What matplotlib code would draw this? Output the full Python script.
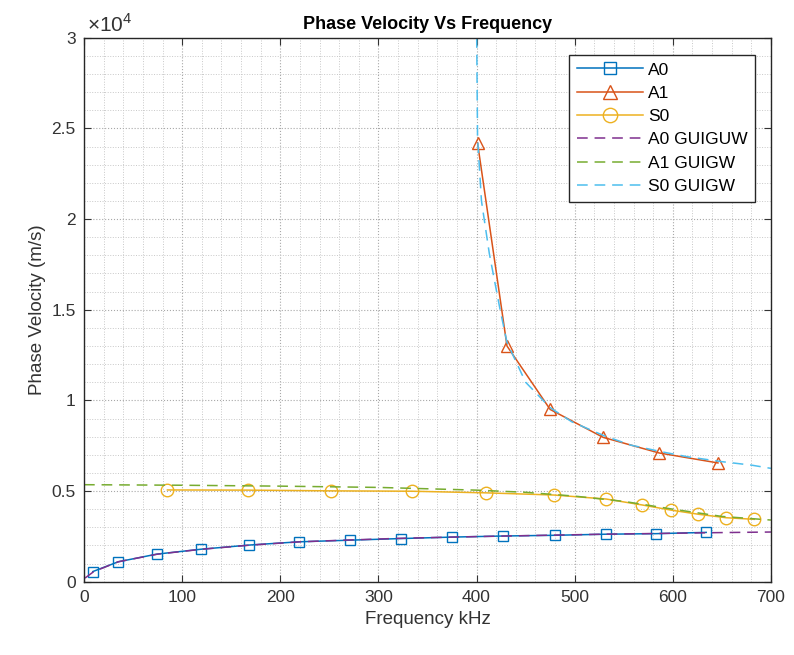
import numpy as np
import matplotlib.pyplot as plt
from matplotlib.ticker import MultipleLocator, FuncFormatter

plt.rcParams['font.family'] = ['Liberation Sans', 'DejaVu Sans']
plt.rcParams['mathtext.fontset'] = 'custom'
plt.rcParams['mathtext.rm'] = 'Liberation Sans'

# measured modes (kHz, m/s)
a0_f = [9, 35, 74, 119, 168, 219, 271, 323, 375, 427, 480, 532, 583, 634]
a0_v = [560, 1100, 1520, 1790, 2020, 2200, 2290, 2380, 2460, 2520, 2560, 2620, 2650, 2720]

a1_f = [401, 431, 475, 529, 586, 646]
a1_v = [24200, 13000, 9500, 7960, 7100, 6550]

s0_f = [85, 167, 252, 334, 410, 479, 532, 569, 598, 626, 654, 683]
s0_v = [5060, 5050, 5010, 4990, 4900, 4780, 4560, 4230, 3950, 3720, 3530, 3440]

# GUIGUW reference curves
g_a0_f = [1, 10, 35, 75, 120, 170, 220, 270, 320, 375, 430, 480, 530, 585, 635, 700]
g_a0_v = [200, 560, 1100, 1520, 1790, 2020, 2200, 2300, 2390, 2460, 2520, 2570, 2620, 2660, 2700, 2740]

g_a1_f = [0, 100, 200, 300, 400, 450, 500, 550, 600, 650, 700]
g_a1_v = [5350, 5320, 5270, 5200, 5050, 4930, 4720, 4430, 4000, 3600, 3400]

g_s0_f = [400, 401, 405, 413, 424, 431, 450, 475, 497, 530, 557, 590, 615, 650, 680, 700]
g_s0_v = [31000, 24500, 21000, 18100, 15000, 13200, 11000, 9600, 8820, 8050, 7535, 7150, 6890, 6620, 6430, 6250]

labels = ['A0', 'A1', 'S0', 'A0 GUIGUW', 'A1 GUIGW', 'S0 GUIGW']
colors = ['#0072BD', '#D95319', '#EDB120', '#7E2F8E', '#77AC30', '#4DBEEE']

fig = plt.figure(figsize=(7.94, 6.55), dpi=100)
ax = fig.add_axes([0.1058, 0.1119, 0.8652, 0.8305])

ax.plot(a0_f, a0_v, '-s', color=colors[0], mfc='none', ms=7, lw=1.1, label=labels[0])
ax.plot(a1_f, a1_v, '-^', color=colors[1], mfc='none', ms=9, lw=1.1, label=labels[1])
ax.plot(s0_f, s0_v, '-o', color=colors[2], mfc='none', ms=9, lw=1.1, label=labels[2])
ax.plot(g_a0_f, g_a0_v, '--', color=colors[3], lw=1.1, dashes=(7, 4.5), label=labels[3])
ax.plot(g_a1_f, g_a1_v, '--', color=colors[4], lw=1.1, dashes=(7, 4.5), label=labels[4])
ax.plot(g_s0_f, g_s0_v, '--', color=colors[5], lw=1.1, dashes=(7, 4.5), label=labels[5])

ax.set_xlim(0, 700)
ax.set_ylim(0, 30000)
ax.xaxis.set_major_locator(MultipleLocator(100))
ax.xaxis.set_minor_locator(MultipleLocator(20))
ax.yaxis.set_major_locator(MultipleLocator(5000))
ax.yaxis.set_minor_locator(MultipleLocator(1000))
ax.yaxis.set_major_formatter(FuncFormatter(lambda v, p: f"{v/1e4:g}"))

ax.grid(True, which='major', ls=':', color='#a8a8a8', lw=0.8)
ax.grid(True, which='minor', ls=':', color='#c8c8c8', lw=0.7)
ax.set_axisbelow(True)

ax.tick_params(which='major', direction='in', length=5, top=True, right=True,
               labelsize=12.5, colors='#333333', pad=6)
ax.tick_params(which='minor', length=0)
for s in ax.spines.values():
    s.set_color('#262626')
    s.set_linewidth(1)

ax.text(0.005, 1.003, r'×10$^{4}$', transform=ax.transAxes, fontsize=15,
        color='#333333', ha='left', va='bottom')

ax.set_title('Phase Velocity Vs Frequency', fontsize=13, fontweight='bold', pad=6)
ax.set_xlabel('Frequency kHz', fontsize=13.5, color='#333333')
ax.set_ylabel('Phase Velocity (m/s)', fontsize=13.5, color='#333333')

leg = ax.legend(loc='upper right', bbox_to_anchor=(0.99, 0.985), fontsize=12.5,
                fancybox=False, edgecolor='#262626', framealpha=1,
                handlelength=3.8, labelspacing=0.47, borderpad=0.45, handletextpad=0.3,
                markerscale=1.15)
leg.get_frame().set_linewidth(1)

fig.savefig('out.png', dpi=100)
